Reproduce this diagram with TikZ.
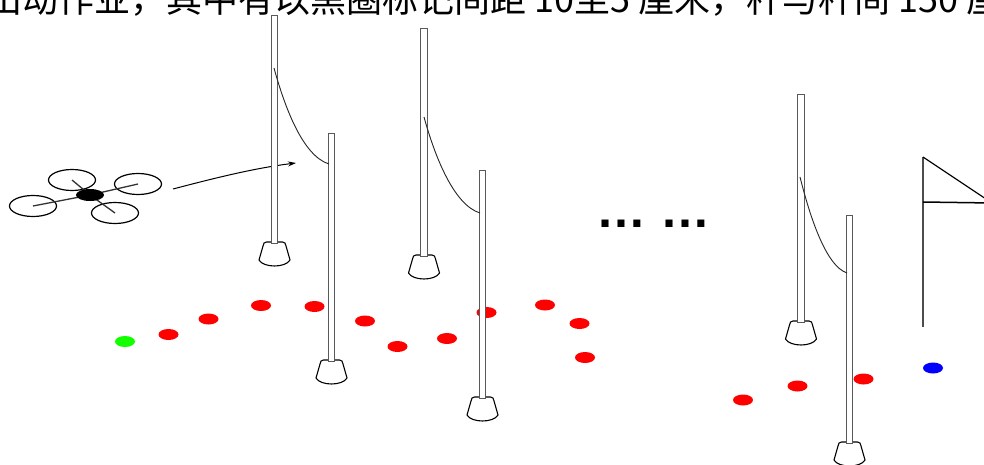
\documentclass[tikz,border=0pt]{standalone}
\usepackage{fontspec}
\newfontfamily\cjkfont{Noto Sans CJK SC}
\newfontfamily\dotfont{Liberation Sans}
\usetikzlibrary{arrows.meta,shapes.geometric}
\begin{document}
\begin{tikzpicture}[x=1pt,y=-1pt,
  pole/.style={draw=black!65, line width=0.9pt, fill=white},
  basecup/.style={draw=black, line width=1.1pt, fill=white, line join=round},
  rope/.style={draw=black!85, line width=0.9pt},
  rotor/.style={ellipse, draw=black, line width=1.2pt, minimum width=47pt, minimum height=21pt, inner sep=0pt},
  arm/.style={draw=black!80, line width=1.3pt},
  hubstyle/.style={ellipse, fill=black, minimum width=28pt, minimum height=12pt, inner sep=0pt},
  marker/.style={ellipse, fill=#1, minimum width=20pt, minimum height=11pt, inner sep=0pt},
  pics/post/.style={code={
     \draw[basecup] (-8,0) .. controls (-10.5,0) and (-11,1.5) .. (-11.5,4)
        -- (-15.5,18) .. controls (-11,26) and (11,26) .. (15.5,18)
        -- (11.5,4) .. controls (11,1.5) and (10.5,0) .. (8,0) -- cycle;
     \draw[pole] (-3.3,1) rectangle (3.3,-227);
  }}
]
\useasboundingbox (0,0) rectangle (984,465);
\fill[white] (0,0) rectangle (984,465);
\clip (0,0) rectangle (984,465);

% caption line running off the top edge
\node[font=\cjkfont\fontsize{36}{36}\selectfont, anchor=base west, inner sep=0pt] (caption)
  at (-14,13) {出动作业，其中有以黑圈标记间距 10至5 厘米，杆与杆间 150 厘};

% flight path markers
\node[marker={green!90!lime}] (start) at (125,341.5) {};
\node[marker=red] (m1)  at (168.5,334.5) {};
\node[marker=red] (m2)  at (208.5,319) {};
\node[marker=red] (m3)  at (261,305.5) {};
\node[marker=red] (m4)  at (314.5,306.5) {};
\node[marker=red] (m5)  at (365,321) {};
\node[marker=red] (m6)  at (397.5,346.5) {};
\node[marker=red] (m7)  at (447,338.5) {};
\node[marker=red] (m8)  at (486.5,312.5) {};
\node[marker=red] (m9)  at (545,305) {};
\node[marker=red] (m10) at (579.5,323.5) {};
\node[marker=red] (m11) at (585,357.5) {};
\node[marker=red] (m12) at (743,400) {};
\node[marker=red] (m13) at (797.5,386) {};
\node[marker=red] (m14) at (863.5,379) {};
\node[marker=blue] (finish) at (933,368) {};

% quadcopter
\coordinate (hubc) at (90,195);
\node[rotor] (r1) at (72,180) {};
\node[rotor] (r2) at (138,184) {};
\node[rotor] (r3) at (33,206) {};
\node[rotor] (r4) at (115,213) {};
\draw[arm] (hubc) -- (r1.center);
\draw[arm] (hubc) -- (r2.center);
\draw[arm] (hubc) -- (r3.center);
\draw[arm] (hubc) -- (r4.center);
\node[hubstyle] (hub) at (hubc) {};

% flight direction
\coordinate (flyfrom) at (173,189);
\coordinate (flyto) at (296,163);
\draw[line width=1pt, -{Stealth[length=8pt,width=5pt]}]
  (flyfrom) .. controls (215,178) and (255,168) .. (flyto);

% gates: pairs of posts with a hanging line
\pic at (274.5,242) {post};
\pic at (331.5,360) {post};
\pic at (424,255) {post};
\pic at (482.5,397) {post};
\pic at (801,321) {post};
\pic at (849.5,442) {post};

\coordinate (g1a) at (274,68);  \coordinate (g1b) at (329,164);
\coordinate (g2a) at (424,117); \coordinate (g2b) at (480,213);
\coordinate (g3a) at (800,177); \coordinate (g3b) at (847,273);
\draw[rope] (g1a) .. controls (285,108) and (303,156) .. (g1b);
\draw[rope] (g2a) .. controls (435,157) and (454,205) .. (g2b);
\draw[rope] (g3a) .. controls (810,217) and (826,266) .. (g3b);

% more gates follow
\node[font=\dotfont\bfseries\fontsize{50}{50}\selectfont, anchor=base west, inner sep=0pt] (more)
  at (596,227) {… …};

% finish flag
\coordinate (flagfoot) at (923,327);
\coordinate (flagtop) at (923,157);
\coordinate (flagtip) at (992,203);
\coordinate (flagmid) at (923,202);
\draw[black!70, line width=1.3pt] (flagfoot) -- (flagtop);
\draw[black, line width=1.2pt] (flagtop) -- (flagtip);
\draw[black, line width=1.5pt] (flagmid) -- (flagtip);
\end{tikzpicture}
\end{document}
